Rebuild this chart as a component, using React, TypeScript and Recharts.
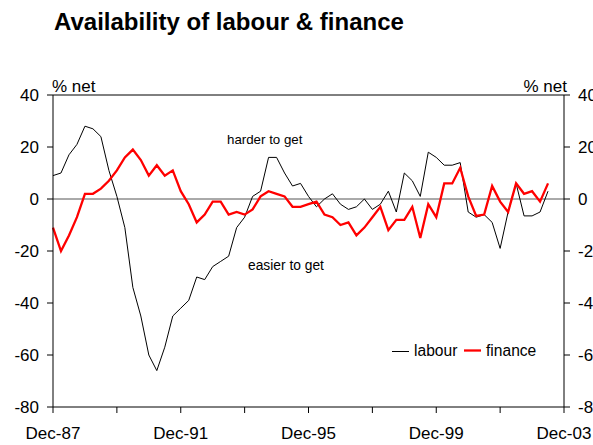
import React from "react";
import { LineChart, Line, XAxis, YAxis, ReferenceLine } from "recharts";

// Quarterly survey readings, Dec-87 (index 0) to Jun-03 (index 62)
const labour: number[] = [
  9, 10, 17, 21, 28, 27, 24, 11, 1, -11,
  -34, -45, -60, -66, -57, -45, -42, -39, -30, -31,
  -26, -24, -22, -11, -7, 1, 3, 16, 16, 10,
  5, 6, 1, -3, 0, 2, -2, -4, -3, 0,
  -4, -2, 3, -5, 10, 7, 1, 18, 16, 13,
  13, 14, -5, -7, -6, -9, -19, -5, 6, -6.5,
  -6.5, -5, 3,
];
const finance: number[] = [
  -11, -20, -14, -7, 2, 2, 4, 7, 11, 16,
  19, 15, 9, 13, 9, 11, 3, -2, -9, -6,
  -1, -1, -6, -5, -6, -4, 1, 3, 2, 1,
  -3, -3, -2, -1, -6, -7, -10, -9, -14, -11,
  -7, -3, -12, -8, -8, -3, -15, -2, -7, 6,
  6, 12, 1, -6.5, -6, 5, -1, -5, 6, 2,
  3, -1, 6,
];
const xTickLabels: string[] = ["Dec-87", "", "Dec-91", "", "Dec-95", "", "Dec-99", "", "Dec-03"];
const xTickPositions: number[] = [0, 8, 16, 24, 32, 40, 48, 56, 64];
const yTicks: number[] = [-80, -60, -40, -20, 0, 20, 40];

const data = labour.map((v, i) => ({ i, labour: v, finance: finance[i] }));

const FONT = "'Liberation Sans', Arial, sans-serif";

export default function App() {
  const tickStyle = { fontSize: 17, fill: "#000", fontFamily: FONT };
  return (
    <div style={{ position: "absolute", left: 0, top: 0, width: 593, height: 445, background: "#fff", fontFamily: FONT }}>
      <LineChart
        width={593}
        height={445}
        data={data}
        margin={{ top: 95, right: 0, bottom: 0, left: 0 }}
      >
        <XAxis
          dataKey="i"
          type="number"
          domain={[0, 64]}
          ticks={xTickPositions}
          tickFormatter={(v: number) => xTickLabels[xTickPositions.indexOf(v)] ?? ""}
          height={38}
          tickSize={6}
          tickMargin={14}
          stroke="#000"
          tick={tickStyle}
          interval={0}
        />
        <YAxis
          yAxisId="left"
          orientation="left"
          domain={[-80, 40]}
          ticks={yTicks}
          width={53}
          tickSize={6}
          tickMargin={8}
          stroke="#000"
          tick={tickStyle}
          interval={0}
        />
        <YAxis
          yAxisId="right"
          orientation="right"
          domain={[-80, 40]}
          ticks={yTicks}
          width={29}
          tickSize={6}
          tickMargin={8}
          stroke="#000"
          tick={{ ...tickStyle, textAnchor: "start" }}
          interval={0}
        />
        <ReferenceLine yAxisId="left" y={40} stroke="#000" strokeWidth={1} />
        <ReferenceLine yAxisId="left" y={0} stroke="#555" strokeWidth={1} />
        <Line
          yAxisId="right"
          type="linear"
          dataKey="finance"
          stroke="none"
          strokeWidth={0}
          dot={false}
          activeDot={false}
          legendType="none"
          isAnimationActive={false}
        />
        <Line
          yAxisId="left"
          type="linear"
          dataKey="labour"
          stroke="#000"
          strokeWidth={1}
          dot={false}
          isAnimationActive={false}
        />
        <Line
          yAxisId="left"
          type="linear"
          dataKey="finance"
          stroke="#ff0000"
          strokeWidth={2.3}
          dot={false}
          isAnimationActive={false}
        />
      </LineChart>
      <svg
        width={593}
        height={445}
        style={{ position: "absolute", left: 0, top: 0, pointerEvents: "none" }}
      >
        <text x={54} y={30} fontSize={24} fontWeight="bold" fontFamily={FONT} fill="#000">
          Availability of labour &amp; finance
        </text>
        <text x={52} y={92} fontSize={17} fontFamily={FONT} fill="#000">% net</text>
        <text x={567} y={92} fontSize={17} fontFamily={FONT} fill="#000" textAnchor="end">% net</text>
        <text x={227} y={144} fontSize={13.3} fontFamily={FONT} fill="#000">harder to get</text>
        <text x={248} y={270} fontSize={13.8} fontFamily={FONT} fill="#000">easier to get</text>
        <line x1={392} y1={351.5} x2={409} y2={351.5} stroke="#000" strokeWidth={1} />
        <text x={414} y={356} fontSize={15.6} fontFamily={FONT} fill="#000">labour</text>
        <line x1={464} y1={350.5} x2={481} y2={350.5} stroke="#ff0000" strokeWidth={2.3} />
        <text x={486} y={356} fontSize={15.6} fontFamily={FONT} fill="#000">finance</text>
      </svg>
    </div>
  );
}
